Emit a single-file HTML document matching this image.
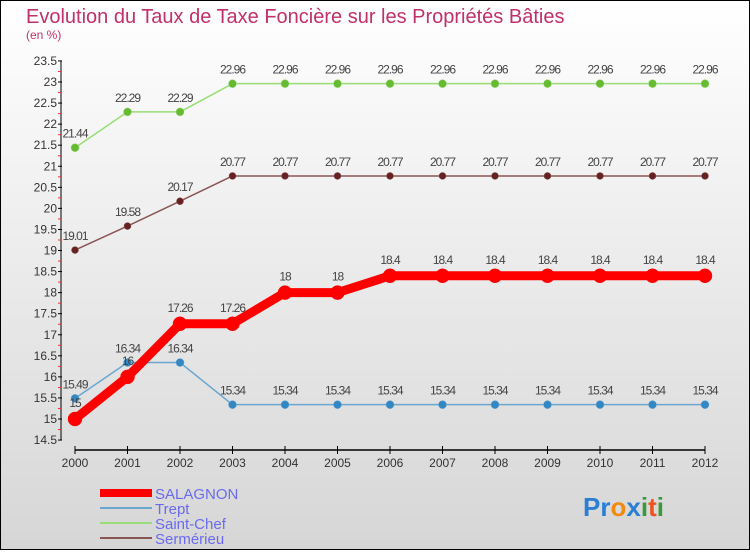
<!DOCTYPE html>
<html><head><meta charset="utf-8"><style>
body{margin:0}
svg text{font-family:"Liberation Sans",sans-serif}
</style></head><body>
<svg id="c" width="750" height="550" xmlns="http://www.w3.org/2000/svg">
<defs><linearGradient id="bg" x1="0" y1="0" x2="0" y2="1"><stop offset="0" stop-color="#ffffff"/><stop offset="1" stop-color="#d6d6d6"/></linearGradient></defs>
<rect x="0.5" y="0.5" width="749" height="549" fill="url(#bg)" stroke="#000"/>
<text x="26" y="23" font-size="20" fill="#c0306a">Evolution du Taux de Taxe Foncière sur les Propriétés Bâties</text>
<text x="26" y="39" font-size="12" fill="#c0306a">(en %)</text>
<g id="axes"></g><g id="series"></g>
<g>
<rect x="100" y="489" width="52" height="8" fill="#f00"/>
<text x="155" y="499" font-size="15" fill="#6a6af0">SALAGNON</text>
<rect x="100" y="507" width="52" height="2" fill="#6aa6cf"/>
<text x="155" y="514" font-size="15" fill="#6a6af0">Trept</text>
<rect x="100" y="522" width="52" height="2" fill="#99dd77"/>
<text x="155" y="529" font-size="15" fill="#6a6af0">Saint-Chef</text>
<rect x="100" y="537" width="52" height="2" fill="#8a5555"/>
<text x="155" y="544" font-size="15" fill="#6a6af0">Sermérieu</text>
</g>
<text x="583" y="516" font-size="26" font-weight="bold"><tspan fill="#2a7fd4">Pr</tspan><tspan fill="#f08a10">o</tspan><tspan fill="#2a7fd4">x</tspan><tspan fill="#3a9a3a">i</tspan><tspan fill="#f05020">t</tspan><tspan fill="#3a9a3a">i</tspan></text>
</svg>
<script>
const years=[2000,2001,2002,2003,2004,2005,2006,2007,2008,2009,2010,2011,2012];
const salagnon=[15,16,17.26,17.26,18,18,18.4,18.4,18.4,18.4,18.4,18.4,18.4];
const trept=[15.49,16.34,16.34,15.34,15.34,15.34,15.34,15.34,15.34,15.34,15.34,15.34,15.34];
const saintChef=[21.44,22.29,22.29,22.96,22.96,22.96,22.96,22.96,22.96,22.96,22.96,22.96,22.96];
const sermerieu=[19.01,19.58,20.17,20.77,20.77,20.77,20.77,20.77,20.77,20.77,20.77,20.77,20.77];
const yTicks=[14.5,15,15.5,16,16.5,17,17.5,18,18.5,19,19.5,20,20.5,21,21.5,22,22.5,23,23.5];
const NS="http://www.w3.org/2000/svg";
const xs=i=>75+i*52.5;
const ys=v=>419-(v-15)*42.125;
function mk(t,a,p){const e=document.createElementNS(NS,t);for(const k in a)e.setAttribute(k,a[k]);p.appendChild(e);return e;}
const ax=document.getElementById('axes');
const yl=mk('line',{x1:61,y1:ys(23.5),x2:61,y2:ys(14.5),stroke:'#000'},ax);


const xl=mk('line',{x1:75,y1:450,x2:705,y2:450,stroke:'#000',"stroke-width":1.5},ax);


yTicks.forEach((v,i)=>{
  const y=ys(v);
  mk('line',{x1:58,y1:y,x2:62,y2:y,stroke:'#000'},ax);
  if(i<yTicks.length-1) mk('line',{x1:58,y1:y-10.5,x2:61,y2:y-10.5,stroke:'#e33'},ax);
  const t=mk('text',{x:57,y:y+4,"font-size":12,fill:'#333',"text-anchor":'end'},ax);
  t.textContent=v;
  
  
});
years.forEach((yr,i)=>{
  mk('line',{x1:xs(i),y1:446,x2:xs(i),y2:454,stroke:'#000'},ax);
  const t=mk('text',{x:xs(i),y:467,"font-size":12,fill:'#333',"text-anchor":'middle'},ax);
  t.textContent=yr;
  
  
});
const sg=document.getElementById('series');
function draw(vals,name,color,lw,r,dot,labOff){
  const g=mk('g',{},sg);
  
  
  mk('polyline',{points:vals.map((v,i)=>xs(i)+','+ys(v)).join(' '),fill:'none',stroke:color,"stroke-width":lw,"stroke-linejoin":'round'},g);
  vals.forEach((v,i)=>{
    const c=mk('circle',{cx:xs(i),cy:ys(v),r:r,fill:dot,stroke:color,"stroke-width":0.5},g);
    
    
    const t=mk('text',{x:xs(i),y:ys(v)+labOff,"font-size":12,fill:'#444',"text-anchor":'middle',"letter-spacing":'-1'},g);
    t.textContent=v;
    
    
  });
}
draw(trept,'trept','#6aa6cf',1.5,4,'#3388c4',-10);
draw(saintChef,'saint-chef','#99dd77',1.5,4,'#66bb33',-10);
draw(sermerieu,'sermerieu','#8a5555',1.5,3.5,'#662222',-10);
draw(salagnon,'salagnon','#f00',9,7,'#f00',-12);
</script>
</body></html>
